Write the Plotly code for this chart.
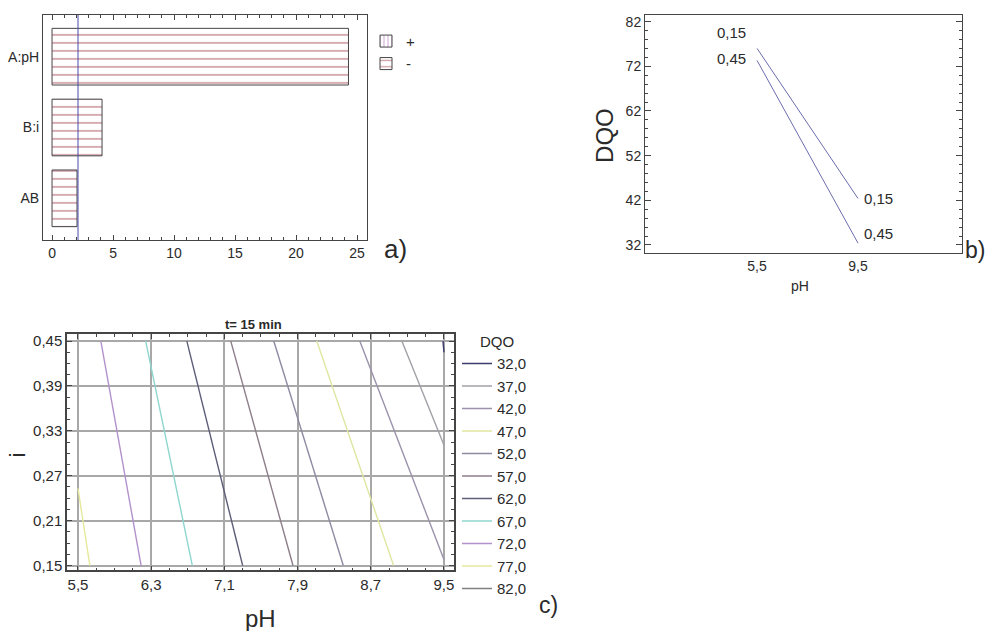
import plotly.graph_objects as go

# ---------------- data ----------------
# a) standardized Pareto chart
effects = ["A:pH", "B:i", "AB"]
std_effect = [24.3, 4.1, 2.05]
t_critical = 2.13
effect_ticks = [0, 5, 10, 15, 20, 25]

# b) interaction plot
ph_levels = [5.5, 9.5]
i_labels = ["0,15", "0,45"]
dqo_i015 = [76.0, 42.4]
dqo_i045 = [73.3, 32.4]
dqo_ticks = [32, 42, 52, 62, 72, 82]

# c) contour plot (t = 15 min) - contour segments
c_levels = ["32,0", "37,0", "42,0", "47,0", "52,0", "57,0", "62,0", "67,0", "72,0", "77,0", "82,0"]
c_ph_start = [9.49, 9.04, 8.58, 8.11, 7.64, 7.17, 6.69, 6.24, 5.75, 5.50, None]
c_i_start = [0.450, 0.450, 0.450, 0.450, 0.450, 0.450, 0.450, 0.450, 0.450, 0.253, None]
c_ph_end = [9.50, 9.50, 9.50, 8.95, 8.40, 7.85, 7.30, 6.75, 6.19, 5.63, None]
c_i_end = [0.435, 0.311, 0.158, 0.150, 0.150, 0.150, 0.150, 0.150, 0.150, 0.150, None]
c_colors = ["#3c3c6e", "#a0a0a8", "#9c92ac", "#dfe6a2", "#8e8aa2", "#8c7e8a",
            "#5e5e78", "#8fd6cf", "#b392cc", "#e6e89c", "#808080"]

# ---------------- helpers ----------------
W, H = 987, 631
FONT = "Liberation Sans, Arial, sans-serif"
TXT = "#2a2a2a"
AX = "#454545"


def px(x):
    return x / W


def py(y):
    return 1 - y / H


fig = go.Figure()

# ---- a) ----
fig.add_trace(go.Bar(
    x=[None], y=[effects[0]], orientation="h", name="+", width=0.8,
    marker=dict(color="white", line=dict(color=AX, width=1),
                pattern=dict(shape="|", fgcolor="#9a50aa", bgcolor="white", size=5, solidity=0.25)),
    xaxis="x", yaxis="y", legend="legend"))
fig.add_trace(go.Bar(
    x=std_effect, y=effects, orientation="h", name="-", width=0.8,
    marker=dict(color="white", line=dict(color=AX, width=1),
                pattern=dict(shape="-", fgcolor="#9e3444", bgcolor="white", size=8, solidity=0.2)),
    xaxis="x", yaxis="y", legend="legend"))

# ---- b) ----
for name, vals in [(i_labels[0], dqo_i015), (i_labels[1], dqo_i045)]:
    fig.add_trace(go.Scatter(x=ph_levels, y=vals, mode="lines", name=name, showlegend=False,
                             line=dict(color="#6c6cae", width=1), xaxis="x2", yaxis="y2"))

# ---- c) ----
for k, lev in enumerate(c_levels):
    fig.add_trace(go.Scatter(
        x=[c_ph_start[k], c_ph_end[k]], y=[c_i_start[k], c_i_end[k]], mode="lines",
        name=lev, line=dict(color=c_colors[k], width=1.4),
        xaxis="x3", yaxis="y3", legend="legend2"))

axfont = dict(family=FONT, size=14, color=TXT)

fig.update_layout(
    width=W, height=H, autosize=False,
    margin=dict(l=0, r=0, t=0, b=0),
    paper_bgcolor="white", plot_bgcolor="white",
    separators=",.",
    barmode="overlay",
    font=dict(family=FONT, color=TXT),
    # a)
    xaxis=dict(domain=[px(43), px(367)], range=[-0.74, 25.82], anchor="y",
               tickvals=effect_ticks, ticks="inside", ticklen=5, tickcolor=AX,
               minor=dict(dtick=1, ticks="inside", ticklen=3, tickcolor=AX),
               showline=True, linecolor=AX, linewidth=1, mirror="ticks",
               showgrid=False, zeroline=False, tickfont=axfont),
    yaxis=dict(domain=[py(240), py(13)], type="category", categoryarray=effects[::-1],
               categoryorder="array", range=[-0.59, 2.59], anchor="x",
               showline=True, linecolor=AX, linewidth=1, mirror=True,
               ticks="", showgrid=False, zeroline=False, tickfont=axfont),
    # b)
    xaxis2=dict(domain=[px(645), px(962)], range=[1.06, 13.62], anchor="y2",
                tickvals=ph_levels, tickformat=".1f", ticks="",
                showline=True, linecolor=AX, linewidth=1, mirror=True,
                showgrid=False, zeroline=False, tickfont=axfont),
    yaxis2=dict(domain=[py(253), py(13)], range=[30.2, 83.5], anchor="x2",
                tickvals=dqo_ticks, ticks="inside", ticklen=6, tickcolor=AX,
                minor=dict(dtick=2, tick0=32, ticks="inside", ticklen=3, tickcolor=AX),
                showline=True, linecolor=AX, linewidth=1, mirror="ticks",
                showgrid=False, zeroline=False, tickfont=axfont),
    # c)
    xaxis3=dict(domain=[px(67), px(454)], range=[5.38, 9.61], anchor="y3",
                tick0=5.5, dtick=0.8, tickformat=".1f", ticks="inside", ticklen=5, tickcolor=AX,
                minor=dict(tick0=5.5, dtick=0.2, ticks="inside", ticklen=3, tickcolor=AX),
                showline=True, linecolor=AX, linewidth=1.5, mirror="ticks",
                showgrid=True, gridcolor="#a8a8a8", gridwidth=1.5, zeroline=False,
                tickfont=dict(family=FONT, size=15, color=TXT)),
    yaxis3=dict(domain=[py(573), py(335)], range=[0.1434, 0.459], anchor="x3",
                tick0=0.15, dtick=0.06, tickformat=".2f", ticks="inside", ticklen=5, tickcolor=AX,
                minor=dict(tick0=0.15, dtick=0.015, ticks="inside", ticklen=3, tickcolor=AX),
                showline=True, linecolor=AX, linewidth=1.5, mirror="ticks",
                showgrid=True, gridcolor="#a8a8a8", gridwidth=1.5, zeroline=False,
                tickfont=dict(family=FONT, size=15, color=TXT)),
    legend=dict(x=px(366), y=py(23), xanchor="left", yanchor="top",
                bgcolor="rgba(0,0,0,0)", traceorder="normal", tracegroupgap=0,
                font=dict(family=FONT, size=15, color=TXT)),
    legend2=dict(x=px(457), y=py(348), xanchor="left", yanchor="top",
                 bgcolor="rgba(0,0,0,0)", traceorder="normal", tracegroupgap=0,
                 font=dict(family=FONT, size=15, color=TXT)),
)

# critical value line in a)
fig.add_shape(type="line", xref="x", yref="y domain", x0=t_critical, x1=t_critical, y0=0, y1=1,
              line=dict(color="#4a4aa6", width=1))

ann = []


def label(text, x, y, size, angle=0, bold=False):
    ann.append(dict(text=f"<b>{text}</b>" if bold else text, x=px(x), y=py(y), xref="paper",
                    yref="paper", showarrow=False, textangle=angle, xanchor="center",
                    yanchor="middle", font=dict(family=FONT, size=size, color=TXT)))


label("a)", 395, 249, 26)
label("b)", 975, 250, 23)
label("c)", 548, 608, 23)
label("DQO", 605, 135, 24, angle=-90)
label("pH", 800, 286, 14)
label("pH", 260, 621, 24)
label("i", 17, 457, 22, angle=-90)
label("t= 15 min", 253, 325, 13, bold=True)
label("DQO", 497, 342, 15)

# interaction-plot labels at the line ends
for name, vals, shifts in [(i_labels[0], dqo_i015, (16, 0)), (i_labels[1], dqo_i045, (2, 10))]:
    ann.append(dict(text=name, x=ph_levels[0], y=vals[0], xref="x2", yref="y2", showarrow=False,
                    xanchor="right", yanchor="middle", xshift=-9, yshift=shifts[0],
                    font=dict(family=FONT, size=15, color=TXT)))
    ann.append(dict(text=name, x=ph_levels[1], y=vals[1], xref="x2", yref="y2", showarrow=False,
                    xanchor="left", yanchor="middle", xshift=4, yshift=shifts[1],
                    font=dict(family=FONT, size=15, color=TXT)))

fig.update_layout(annotations=ann)

fig.write_html("out.html", config={"displayModeBar": False},
               post_script="document.body.style.margin='0';")
